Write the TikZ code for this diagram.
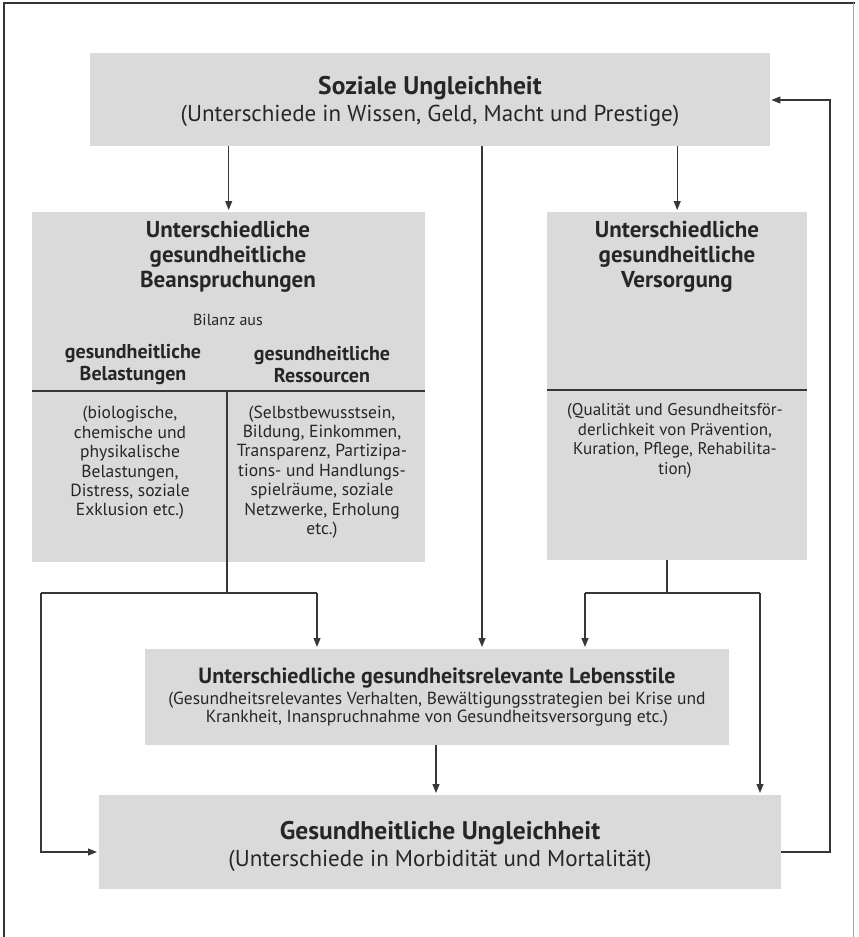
\documentclass[tikz,border=0pt]{standalone}
\usepackage{fontspec}
\setmainfont{PT Sans}
\usetikzlibrary{arrows.meta}
\definecolor{boxgray}{RGB}{218,218,218}
\definecolor{ink}{RGB}{38,38,38}
\definecolor{linegray}{RGB}{55,55,55}
\begin{document}
\begin{tikzpicture}[x=1pt,y=-1pt,
  box/.style={fill=boxgray, draw=none, inner sep=0, anchor=north west},
  txt/.style={text=ink, inner sep=0, align=center},
  conn/.style={draw=linegray, line width=1.1pt},
  arr/.style={conn, -{Triangle[length=9pt,width=7pt]}},
  divider/.style={draw=linegray, line width=1.1pt},
]
\useasboundingbox (0,0) rectangle (859,937);
% frame
\draw[line width=1.6pt, draw=black!80] (4,937) -- (4,3) -- (855,3);
\draw[line width=0.8pt, draw=black!35] (853,3) -- (853,937);

% boxes
\node[box, minimum width=680pt, minimum height=93pt] (top) at (90,53) {};
\node[box, minimum width=393pt, minimum height=350pt] (lbox) at (32,212) {};
\node[box, minimum width=260pt, minimum height=348pt] (rbox) at (547,212) {};
\node[box, minimum width=584pt, minimum height=96pt] (mid) at (145,649) {};
\node[box, minimum width=682pt, minimum height=94pt] (bot) at (99,795) {};

% top text
\node[txt, font=\bfseries\fontsize{25.5}{28}\selectfont] (toptitle) at (430,88) {Soziale Ungleichheit};
\node[txt, font=\fontsize{23}{26}\selectfont] (topsub) at (430,116) {(Unterschiede in Wissen, Geld, Macht und Prestige)};

% left box text
\node[txt, font=\bfseries\fontsize{23}{25}\selectfont] (ltitle) at (228,257) {Unterschiedliche\\gesundheitliche\\Beanspruchungen};
\node[txt, font=\fontsize{16}{18}\selectfont] (bilanz) at (228,320) {Bilanz aus};
\node[txt, font=\bfseries\fontsize{20}{22}\selectfont] (belast) at (133,365) {gesundheitliche\\Belastungen};
\node[txt, font=\bfseries\fontsize{20}{22}\selectfont] (ressour) at (322,365) {gesundheitliche\\Ressourcen};
\node[txt, font=\fontsize{17.5}{19.4}\selectfont] (belbody) at (130,463) {(biologische,\\chemische und\\physikalische\\Belastungen,\\Distress, soziale\\Exklusion etc.)};
\node[txt, font=\fontsize{17.5}{19.4}\selectfont] (resbody) at (322,472) {(Selbstbewusstsein,\\Bildung, Einkommen,\\Transparenz, Partizipa-\\tions- und Handlungs-\\spielräume, soziale\\Netzwerke, Erholung\\etc.)};
\draw[divider] (lbox.west |- 0,391) -- (lbox.east |- 0,391);

% right box text
\node[txt, font=\bfseries\fontsize{23}{25}\selectfont] (rtitle) at (677,257) {Unterschiedliche\\gesundheitliche\\Versorgung};
\node[txt, font=\fontsize{17}{19.6}\selectfont] (rbody) at (675,441) {(Qualität und Gesundheitsför-\\derlichkeit von Prävention,\\Kuration, Pflege, Rehabilita-\\tion)};
\draw[divider] (rbox.west |- 0,390) -- (rbox.east |- 0,390);

% middle text
\node[txt, font=\bfseries\fontsize{22}{24}\selectfont] (midtitle) at (437,678) {Unterschiedliche gesundheitsrelevante Lebensstile};
\node[txt, font=\fontsize{17.5}{17.8}\selectfont] (midsub) at (437,709) {(Gesundheitsrelevantes Verhalten, Bewältigungsstrategien bei Krise und\\Krankheit, Inanspruchnahme von Gesundheitsversorgung etc.)};

% bottom text
\node[txt, font=\bfseries\fontsize{25.5}{28}\selectfont] (bottitle) at (440,833) {Gesundheitliche Ungleichheit};
\node[txt, font=\fontsize{23}{26}\selectfont] (botsub) at (440,861) {(Unterschiede in Morbidität und Mortalität)};

% coordinates
\coordinate (lsplit) at (227,593);
\coordinate (lleft) at (41,593);
\coordinate (lright) at (317,593);
\coordinate (rsplit) at (667,593);
\coordinate (rleft) at (585,593);
\coordinate (rright) at (760,593);
\coordinate (center) at (482,146);
\coordinate (midin) at (436,745);
\coordinate (fbx) at (830,852);
\coordinate (fby) at (830,100);

% connectors from top
\draw[arr] (top.south -| lbox.north) -- ([yshift=2pt]lbox.north);
\draw[arr] (top.south -| rbox.north) -- ([yshift=2pt]rbox.north);
\draw[arr] (center) -- ([yshift=2pt]mid.north -| center);

% left split
\draw[divider] (lsplit |- 0,391) -- (lsplit);
\draw[conn] (lleft) -- (lright);
\draw[arr] (lright) -- ([yshift=2pt]mid.north -| lright);
\draw[arr] (lleft) -- (lleft |- 0,852) -- ([xshift=-2pt]bot.west |- 0,852);

% right split
\draw[conn] (rbox.south -| rsplit) -- (rsplit);
\draw[conn] (rleft) -- (rright);
\draw[arr] (rleft) -- ([yshift=2pt]mid.north -| rleft);
\draw[arr] (rright) -- ([yshift=2pt]bot.north -| rright);

% middle to bottom
\draw[arr] (mid.south -| midin) -- ([yshift=2pt]bot.north -| midin);

% feedback
\draw[arr] (bot.east |- fbx) -- (fbx) -- (fby) -- ([xshift=1pt]top.east |- fby);
\end{tikzpicture}
\end{document}
